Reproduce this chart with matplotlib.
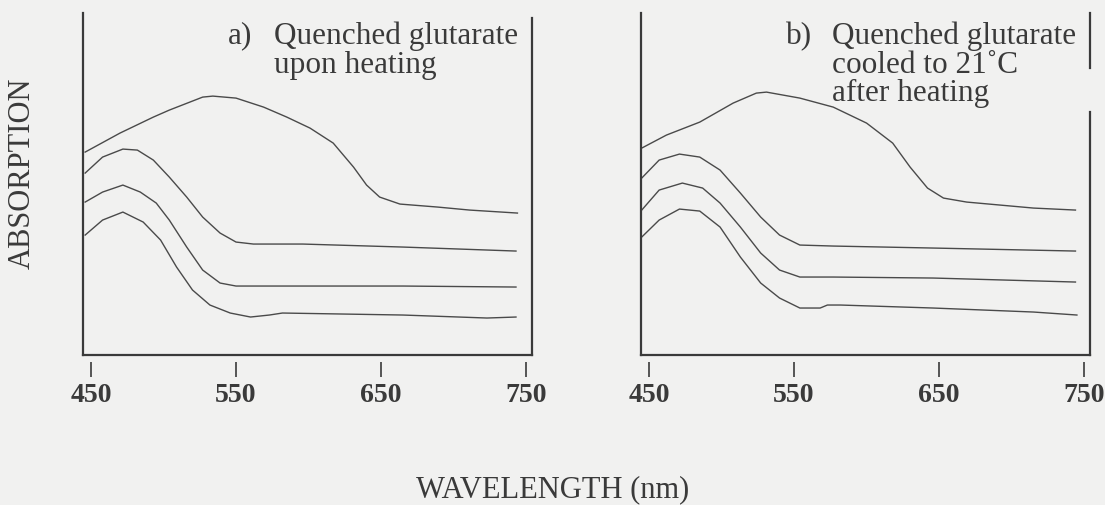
import matplotlib
matplotlib.use("Agg")
import matplotlib.pyplot as plt

plt.rcParams['font.family'] = ['Liberation Serif', 'DejaVu Serif']

ink = "#3a3a3a"
bg = "#f1f1f0"

ticks = [450, 550, 650, 750]

# panel a) quenched glutarate upon heating  (absorption, arbitrary units, offset traces)
wl_a1 = [446, 470, 493, 504, 527, 534, 550, 569, 585, 601, 617, 631, 640, 649, 663, 689, 711, 744]
ab_a1 = [2.03, 2.22, 2.38, 2.45, 2.58, 2.59, 2.57, 2.48, 2.38, 2.27, 2.12, 1.88, 1.70, 1.58, 1.51, 1.48, 1.45, 1.42]
wl_a2 = [446, 458, 472, 482, 493, 504, 516, 527, 539, 550, 562, 596, 665, 743]
ab_a2 = [1.82, 1.98, 2.06, 2.05, 1.95, 1.78, 1.58, 1.38, 1.22, 1.13, 1.11, 1.11, 1.08, 1.04]
wl_a3 = [446, 458, 472, 484, 495, 504, 516, 527, 539, 550, 573, 665, 743]
ab_a3 = [1.53, 1.63, 1.70, 1.63, 1.52, 1.35, 1.08, 0.85, 0.72, 0.69, 0.69, 0.69, 0.68]
wl_a4 = [446, 458, 472, 486, 498, 509, 520, 532, 546, 560, 573, 582, 665, 723, 743]
ab_a4 = [1.20, 1.35, 1.43, 1.33, 1.15, 0.88, 0.65, 0.50, 0.42, 0.38, 0.40, 0.42, 0.40, 0.37, 0.38]

# panel b) cooled to 21 C after heating
wl_b1 = [445, 462, 485, 508, 524, 531, 554, 577, 600, 618, 630, 642, 653, 669, 692, 715, 744]
ab_b1 = [2.07, 2.20, 2.33, 2.52, 2.62, 2.63, 2.57, 2.48, 2.32, 2.12, 1.88, 1.67, 1.57, 1.53, 1.50, 1.47, 1.45]
wl_b2 = [445, 457, 471, 485, 499, 513, 527, 540, 554, 577, 646, 744]
ab_b2 = [1.77, 1.95, 2.01, 1.98, 1.85, 1.62, 1.38, 1.20, 1.10, 1.09, 1.07, 1.04]
wl_b3 = [445, 457, 473, 487, 499, 513, 527, 540, 554, 577, 646, 744]
ab_b3 = [1.45, 1.65, 1.72, 1.67, 1.52, 1.28, 1.02, 0.85, 0.78, 0.78, 0.77, 0.73]
wl_b4 = [445, 457, 471, 485, 499, 513, 527, 540, 554, 568, 573, 582, 646, 715, 745]
ab_b4 = [1.18, 1.35, 1.46, 1.44, 1.28, 0.98, 0.72, 0.57, 0.47, 0.47, 0.50, 0.50, 0.47, 0.43, 0.40]

fig = plt.figure(figsize=(11.05, 5.05), dpi=100, facecolor=bg)
ax1 = fig.add_axes([0.0751, 0.297, 0.4063, 0.677])
ax2 = fig.add_axes([0.5801, 0.297, 0.4063, 0.677])

panels = [
    (ax1, [(wl_a1, ab_a1), (wl_a2, ab_a2), (wl_a3, ab_a3), (wl_a4, ab_a4)],
     "a)", "Quenched glutarate\nupon heating"),
    (ax2, [(wl_b1, ab_b1), (wl_b2, ab_b2), (wl_b3, ab_b3), (wl_b4, ab_b4)],
     "b)", "Quenched glutarate\ncooled to 21\u02daC\nafter heating"),
]

for ax, curves, tag, txt in panels:
    ax.set_facecolor(bg)
    for wl, ab in curves:
        ax.plot(wl, ab, color="#4a4a4a", lw=1.0)
    ax.set_xlim(444.5, 754)
    ax.set_ylim(0, 3.42)
    # ticks sit a little below the box, detached from it
    ax.spines['bottom'].set_position(('outward', 5))
    ax.spines['bottom'].set_color('none')
    ax.spines['top'].set_visible(False)
    ax.spines['right'].set_visible(False)
    ax.spines['left'].set_color(ink)
    ax.spines['left'].set_linewidth(1.6)
    ax.set_yticks([])
    ax.set_xticks(ticks, labels=[str(t) for t in ticks])
    ax.tick_params(axis='x', direction='out', length=11, width=1.2, color=ink, pad=4,
                   labelsize=20, labelcolor=ink)
    for lab in ax.get_xticklabels():
        lab.set_fontweight('bold')
    ax.plot([0, 1], [0, 0], transform=ax.transAxes, color=ink, lw=1.6, clip_on=False)
    ax.text(0.323, 0.975, tag, transform=ax.transAxes, fontsize=22.5, color=ink, va='top', ha='left')
    ax.text(0.425, 0.975, txt, transform=ax.transAxes, fontsize=22.5, color=ink, va='top', ha='left',
            linespacing=0.98)

# right borders (the scan shows a gap in panel b's)
ax1.plot([1, 1], [0, 0.985], transform=ax1.transAxes, color=ink, lw=1.6, clip_on=False)
ax2.plot([1, 1], [0.84, 1.0], transform=ax2.transAxes, color=ink, lw=1.6, clip_on=False)
ax2.plot([1, 1], [0, 0.71], transform=ax2.transAxes, color=ink, lw=1.6, clip_on=False)

fig.text(0.02, 0.657, "ABSORPTION", rotation=90, fontsize=22, color=ink, ha='center', va='center')
fig.text(0.5, 0.03, "WAVELENGTH (nm)", fontsize=22, color=ink, ha='center', va='center')

fig.savefig("out.png", dpi=100, facecolor=bg)
